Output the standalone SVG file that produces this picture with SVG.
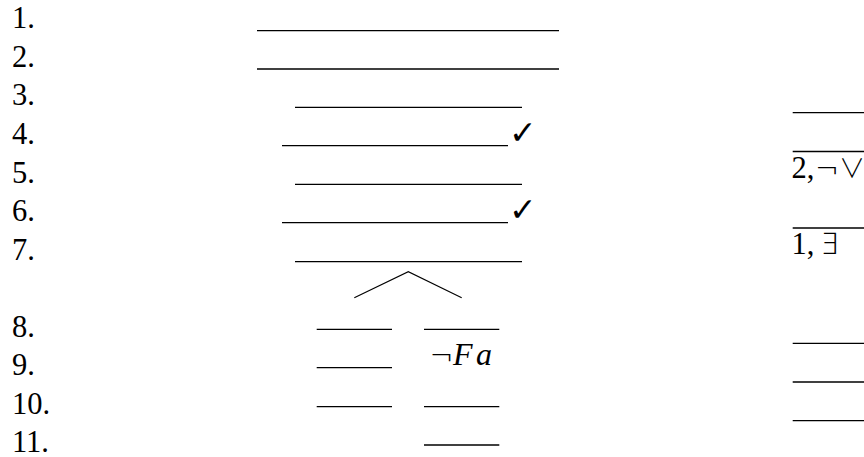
<svg xmlns="http://www.w3.org/2000/svg" width="864" height="457" viewBox="0 0 864 457">
<style>
.lbl{font-family:"Liberation Serif","DejaVu Serif",serif;font-size:30.5px;fill:#000}
.rule{stroke:#000;stroke-width:1.3;fill:none}
.sym{font-family:"DejaVu Sans",sans-serif;font-weight:200;font-size:29px;fill:#000}
.vee{font-family:"Noto Sans CJK JP","DejaVu Sans",sans-serif;font-weight:300;font-size:26px;fill:#000}
.it{font-family:"Liberation Serif",serif;font-style:italic;font-size:32px;fill:#000}
.chk{font-family:"DejaVu Sans",sans-serif;font-size:33px;fill:#000}
.conn{stroke:#000;stroke-width:1.1;fill:none}
</style>
<rect width="864" height="457" fill="#fff"/>
<g id="labels">
<text class="lbl" x="12" y="28.3">1.</text>
<text class="lbl" x="12" y="66.9">2.</text>
<text class="lbl" x="12" y="105.4">3.</text>
<text class="lbl" x="12" y="144">4.</text>
<text class="lbl" x="12" y="182.5">5.</text>
<text class="lbl" x="12" y="221">6.</text>
<text class="lbl" x="12" y="259.6">7.</text>
<text class="lbl" x="12" y="336.7">8.</text>
<text class="lbl" x="12" y="375.3">9.</text>
<text class="lbl" x="12" y="413.8">10.</text>
<text class="lbl" x="12" y="451.5">11.</text>
</g>
<g id="row1"><line class="rule" x1="257" y1="30.7" x2="559" y2="30.7"/></g>
<g id="row2"><line class="rule" x1="257" y1="69" x2="559" y2="69"/></g>
<g id="row3"><line class="rule" x1="295" y1="107.3" x2="522" y2="107.3"/></g>
<g id="row4"><line class="rule" x1="282" y1="145.7" x2="508" y2="145.7"/><text class="chk" x="509" y="143.5">✓</text></g>
<g id="row5"><line class="rule" x1="295" y1="184.3" x2="522" y2="184.3"/></g>
<g id="row6"><line class="rule" x1="282" y1="222.7" x2="508" y2="222.7"/><text class="chk" x="509" y="220.5">✓</text></g>
<g id="row7"><line class="rule" x1="295" y1="261.7" x2="522" y2="261.7"/></g>
<g id="connectors"><polyline class="conn" points="354.3,297.7 408.3,271.7 461.7,297.7"/></g>
<g id="left-branch">
<line class="rule" x1="316.7" y1="329.3" x2="392" y2="329.3"/>
<line class="rule" x1="316.7" y1="367.7" x2="392" y2="367.7"/>
<line class="rule" x1="316.7" y1="406.7" x2="392" y2="406.7"/>
</g>
<g id="right-branch">
<line class="rule" x1="424" y1="329.3" x2="499.3" y2="329.3"/>
<text y="364.5"><tspan class="sym" x="429.5">¬</tspan><tspan class="it" x="453">F</tspan><tspan class="it" x="476">a</tspan></text>
<line class="rule" x1="424" y1="406.7" x2="499.3" y2="406.7"/>
<line class="rule" x1="424" y1="445" x2="499.3" y2="445"/>
</g>
<g id="justifications">
<line class="rule" x1="792.7" y1="112.7" x2="864" y2="112.7"/>
<line class="rule" x1="792.7" y1="151.5" x2="864" y2="151.5"/>
<text y="177.5"><tspan class="lbl" x="791.5">2,</tspan><tspan class="sym" x="815">¬</tspan><tspan class="vee" x="839">∨</tspan></text>
<line class="rule" x1="792.7" y1="228" x2="864" y2="228"/>
<text y="254"><tspan class="lbl" x="791.5">1,</tspan><tspan class="sym" x="820">∃</tspan></text>
<line class="rule" x1="792.7" y1="343.3" x2="864" y2="343.3"/>
<line class="rule" x1="792.7" y1="382" x2="864" y2="382"/>
<line class="rule" x1="792.7" y1="420.7" x2="864" y2="420.7"/>
</g>
</svg>
